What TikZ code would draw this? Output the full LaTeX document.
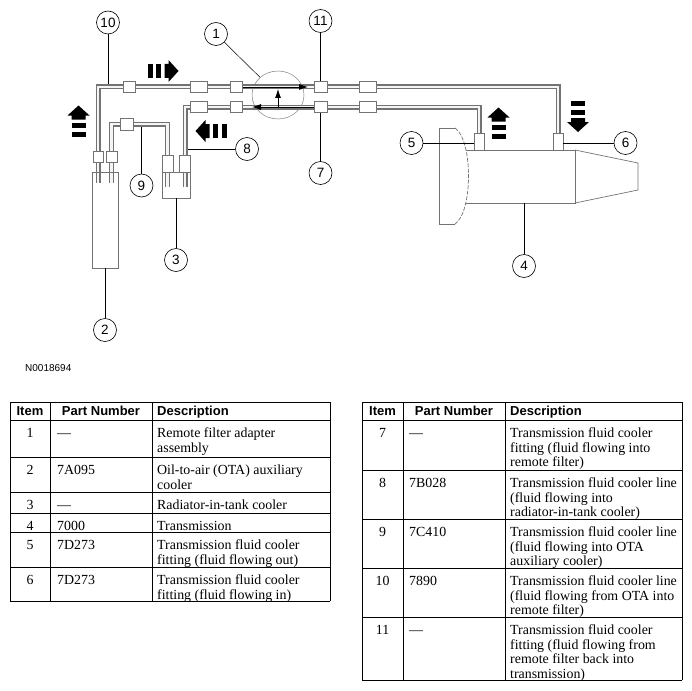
\documentclass[tikz,border=0pt]{standalone}
\usepackage{fontspec}
\setmainfont{Liberation Serif}
\setsansfont{Liberation Sans}
\usetikzlibrary{shapes.geometric,calc,positioning,arrows,arrows.meta}

\tikzset{
  part/.style={draw=black!55, line width=0.7pt},
  tube/.style={draw=black!55, line width=1.1pt, double=black!4, double distance=2.8pt},
  fitting/.style={draw=black!55, fill=white, line width=0.7pt, inner sep=0pt, minimum width=12pt, minimum height=11pt},
  callout/.style={circle, draw, line width=0.6pt, inner sep=0pt, minimum size=23pt, font=\sffamily\fontsize{13.5}{13.5}\selectfont},
  leader/.style={line width=0.5pt},
  flow/.style={-{Latex[length=9pt,width=6pt]}, line width=0.8pt},
  rule/.style={line width=0.9pt},
  cell/.style={inner sep=0pt, font=\fontsize{13.9}{14.7}\selectfont, align=left},
  head/.style={inner sep=0pt, font=\sffamily\bfseries\fontsize{13}{13}\selectfont}
}

% block arrow: two bars and a head, #1 = centre, #2 = direction
\newcommand{\flowarrow}[2]{%
  \begin{scope}[shift={#1}, rotate=#2]
    \fill (-15.5,-7) rectangle (-10.5,7);
    \fill (-7,-7) rectangle (-2,7);
    \fill (1.5,-7) -- (5.5,-7) -- (5.5,-11) -- (15.5,0) -- (5.5,11) -- (5.5,7) -- (1.5,7) -- cycle;
  \end{scope}}

\begin{document}
\begin{tikzpicture}[x=1pt,y=-1pt]
\useasboundingbox (0,0) rectangle (692,690);
% remote filter adapter
\node[ellipse, draw=black!50, line width=0.5pt, minimum width=52pt, minimum height=48pt, inner sep=0pt] (adapter) at (278,95) {};
% cooler lines
\draw[tube] (98,183) -- (98,87) -- (558,87) -- (558,141);
\draw[tube] (111.5,183) -- (111.5,124) -- (167.5,124) -- (167.5,187);
\draw[tube] (479,141) -- (479,107) -- (185,107) -- (185,187);
\draw[flow] (242,87) -- (308,87);
\draw[flow] (316,107) -- (252,107);
\draw[flow] (278,107) -- (278,89);
% fittings
\foreach \x/\w [count=\k] in {129/12,198.5/17,236/12,368/17}
  \node[fitting, minimum width=\w pt] (top\k) at (\x,87) {};
\foreach \x/\w [count=\k] in {198.5/17,236/12,368/17}
  \node[fitting, minimum width=\w pt] (bot\k) at (\x,107) {};
\node[fitting, minimum width=13pt] (f11) at (320.5,87) {};
\node[fitting, minimum width=13pt] (f7) at (320.5,107) {};
\node[fitting, minimum width=13pt, minimum height=12pt] (f9) at (126.5,124) {};
\node[fitting, minimum width=10pt] (ota1) at (98,156.5) {};
\node[fitting, minimum width=11pt] (ota2) at (111.5,156.5) {};
\node[fitting, minimum width=11pt, minimum height=17pt] (rit1) at (167.5,164) {};
\node[fitting, minimum width=11pt, minimum height=17pt] (rit2) at (184.5,164) {};
\node[fitting, minimum width=10pt, minimum height=17pt] (f5) at (479,141.5) {};
\node[fitting, minimum width=10pt, minimum height=17pt] (f6) at (558,141.5) {};
% coolers
\node[part, minimum width=26pt, minimum height=96pt, inner sep=0pt] (ota) at (105,220) {};
\node[part, minimum width=28pt, minimum height=26pt, inner sep=0pt] (rit) at (176,185) {};
% transmission
\draw[part] (455,128) -- (439,128) -- (439,224) -- (455,224);
\draw[part, dash pattern=on 4pt off 1.5pt] (455,128) .. controls (473,140) and (473,212) .. (455,224);
\draw[part] (466,150) -- (575,150) -- (575,203) -- (466,203);
\draw[part] (575,150) -- (638,163) -- (638,190) -- (575,203);
% flow direction
\flowarrow{(163,71)}{0}
\flowarrow{(211,131)}{180}
\flowarrow{(78.5,121)}{90}
\flowarrow{(498.5,123)}{90}
\flowarrow{(578,116.5)}{-90}
% callouts
\node[callout] (c1) at (216,34) {1};
\node[callout] (c2) at (105,330) {2};
\node[callout] (c3) at (176,260) {3};
\node[callout] (c4) at (524,266) {4};
\node[callout] (c5) at (411.5,143) {5};
\node[callout] (c6) at (625.5,143) {6};
\node[callout] (c7) at (320.5,173) {7};
\node[callout] (c8) at (247,149) {8};
\node[callout] (c9) at (141.5,185.5) {9};
\node[callout] (c10) at (108,22.5) {10};
\node[callout] (c11) at (320.5,21) {11};
\coordinate (t4) at (524,203);
\coordinate (t8) at (187.5,149);
\coordinate (t9) at (141.5,126.5);
\coordinate (t10) at (108,84.5);
\draw[leader] (c1) -- (adapter);
\draw[leader] (c2) -- (ota);
\draw[leader] (c3) -- (rit);
\draw[leader] (c4) -- (t4);
\draw[leader] (c5) -- (f5.west |- c5);
\draw[leader] (c6) -- (f6.east |- c6);
\draw[leader] (c7) -- (f7);
\draw[leader] (c8) -- (t8);
\draw[leader] (c9) -- (t9);
\draw[leader] (c10) -- (t10);
\draw[leader] (c11) -- (f11);
\node[anchor=west, inner sep=0pt, font=\sffamily\fontsize{10}{10}\selectfont] (fig) at (25,368) {N0018694};
% parts list, left half
\foreach \y in {402,420,457,492,513,532,567,601}
  \draw[rule] (10,\y) -- (330,\y);
\foreach \x in {10,50,152,330}
  \draw[rule] (\x,402) -- (\x,601);
\node[head, anchor=base] (hitem) at (30,415.7) {Item};
\node[head, anchor=base] (hpart) at (101,415.7) {Part Number};
\node[head, anchor=base west] (hdesc) at (157,415.7) {Description};
\foreach \y/\itm/\pn/\desc in {
  420/1/---/{Remote filter adapter\\assembly},
  457/2/7A095/{Oil-to-air (OTA) auxiliary\\cooler},
  492/3/---/{Radiator-in-tank cooler},
  513/4/7000/{Transmission},
  532/5/7D273/{Transmission fluid cooler\\fitting (fluid flowing out)},
  567/6/7D273/{Transmission fluid cooler\\fitting (fluid flowing in)}}{
  \node[cell, anchor=north] (i\itm) at (30,\y+7) {\strut\itm};
  \node[cell, anchor=north west] (p\itm) at (57,\y+7) {\strut\pn};
  \node[cell, anchor=north west] (d\itm) at (157,\y+7) {\strut\desc};
}
% parts list, right half
\foreach \y in {402,420,470,519,568,617,680}
  \draw[rule] (362,\y) -- (682,\y);
\foreach \x in {362,403,505,682}
  \draw[rule] (\x,402) -- (\x,680);
\node[head, anchor=base] (hitem2) at (382.5,415.7) {Item};
\node[head, anchor=base] (hpart2) at (454,415.7) {Part Number};
\node[head, anchor=base west] (hdesc2) at (510,415.7) {Description};
\foreach \y/\itm/\pn/\desc in {
  420/7/---/{Transmission fluid cooler\\fitting (fluid flowing into\\remote filter)},
  470/8/7B028/{Transmission fluid cooler line\\(fluid flowing into\\radiator-in-tank cooler)},
  519/9/7C410/{Transmission fluid cooler line\\(fluid flowing into OTA\\auxiliary cooler)},
  568/10/7890/{Transmission fluid cooler line\\(fluid flowing from OTA into\\remote filter)},
  617/11/---/{Transmission fluid cooler\\fitting (fluid flowing from\\remote filter back into\\transmission)}}{
  \node[cell, anchor=north] (i\itm) at (382.5,\y+7) {\strut\itm};
  \node[cell, anchor=north west] (p\itm) at (409,\y+7) {\strut\pn};
  \node[cell, anchor=north west] (d\itm) at (510,\y+7) {\strut\desc};
}
\end{tikzpicture}
\end{document}
